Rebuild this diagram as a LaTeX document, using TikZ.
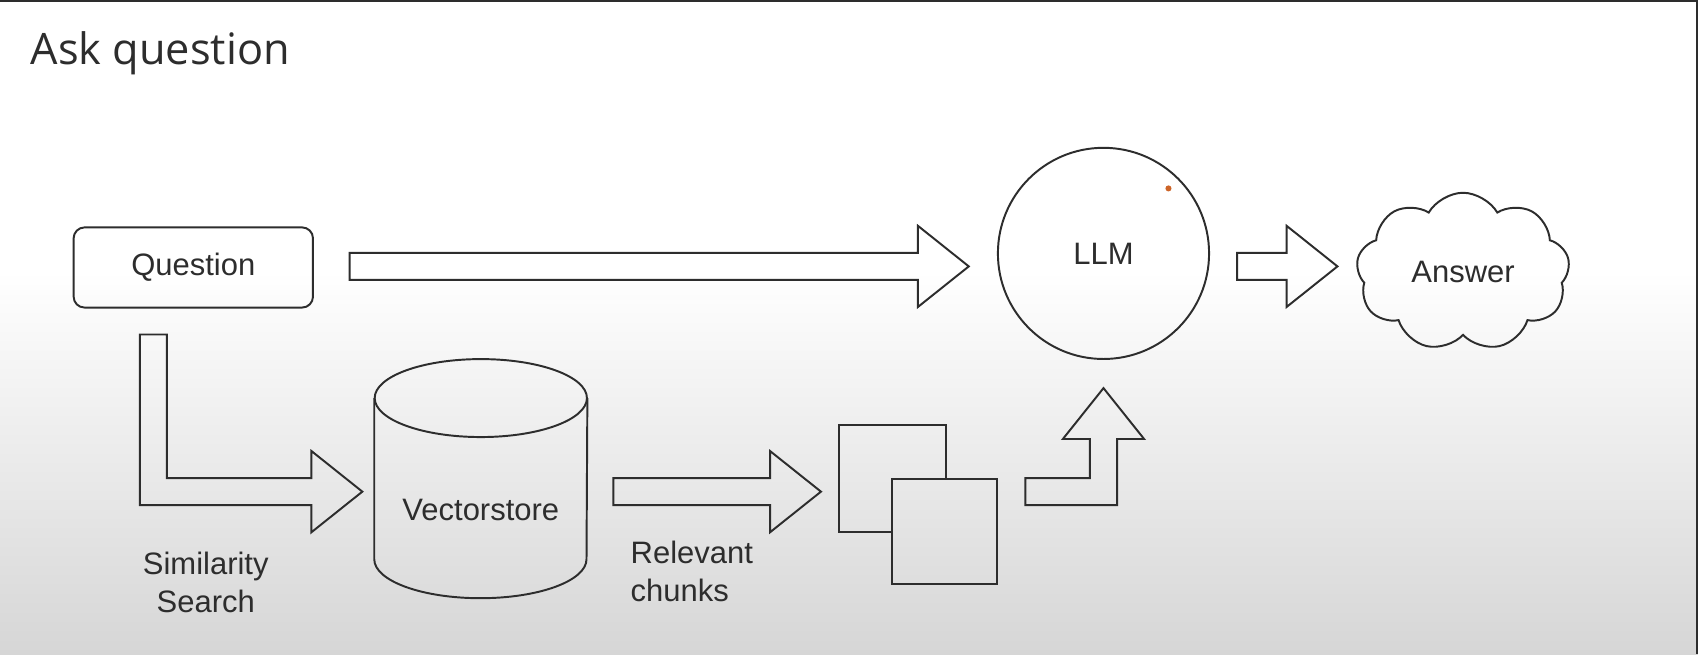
\documentclass[tikz,border=0pt]{standalone}
\usepackage{fontspec}
\setmainfont{Liberation Sans}
\newfontfamily\titlefont{Open Sans}
\usepackage{tikz}
\usetikzlibrary{calc,shapes.symbols}
\definecolor{ink}{RGB}{45,45,45}
\definecolor{bggray}{RGB}{214,214,214}
\definecolor{dotorange}{RGB}{205,100,40}
\tikzstyle{edgeline}=[draw=ink, line width=0.9pt]
\tikzstyle{txt}=[font=\fontsize{14.3}{17.5}\selectfont, text=ink]
\tikzstyle{box}=[edgeline, txt, rounded corners=5pt, minimum width=110.5pt, minimum height=37pt]
\tikzstyle{bubble}=[edgeline, txt, circle, minimum size=97.5pt]
\tikzstyle{cloudy}=[edgeline, txt, cloud, cloud puffs=9, cloud puff arc=120, aspect=1.35, minimum width=98.5pt, minimum height=73pt, inner sep=0pt]
\tikzstyle{store}=[inner sep=0pt, minimum width=98pt, minimum height=110pt]
\tikzstyle{doc}=[edgeline, inner sep=0pt, minimum size=48.5pt]
\tikzstyle{fat}=[edgeline, line join=miter]
%% a block arrow pointing right, from #1 to its tip #2
\newcommand{\harrow}[2]{\draw[fat] let \p1=#1, \p2=#2 in
	(\x1,{\y2+6.25pt}) -- ({\x2-23.5pt},{\y2+6.25pt}) -- ({\x2-23.5pt},{\y2+18.75pt}) -- (\x2,\y2)
	-- ({\x2-23.5pt},{\y2-18.75pt}) -- ({\x2-23.5pt},{\y2-6.25pt}) -- (\x1,{\y2-6.25pt}) -- cycle;}

\begin{document}
\begin{tikzpicture}[x=0.5pt, y=-0.5pt]
	%% the background
	\useasboundingbox (0,0) rectangle (1568,604);
	\fill[white] (0,0) rectangle (1568,604);
	\shade[top color=white, bottom color=bggray] (0,250) rectangle (1568,604);
	\draw[ink, line width=1.2pt] (0,1) -- (1567,1) -- (1567,604);
	\node[anchor=west, inner sep=0pt, text=ink, font=\titlefont\fontsize{20}{24}\selectfont] (title) at (28,49) {Ask question};
	%% the nodes
	\node[box] (q) at (178.5,247) {Question};
	\node[bubble] (llm) at (1019,234) {LLM};
	\node[cloudy] (ans) at (1351,251) {Answer};
	\node[store] (db) at (444,442) {};
	\node[txt] (dbtext) at ([yshift=-14.5pt]db.center) {Vectorstore};
	\node[doc, draw=none] (c1) at (824.5,441.5) {};
	\node[doc] (c2) at (872.5,490.5) {};
	\node[txt, align=center] (sim) at (190,538) {Similarity\\Search};
	\node[txt, align=left, anchor=west, inner sep=0pt] (rel) at (582,528) {Relevant\\chunks};
	\fill[dotorange] (1079,174) circle (1.4pt);
	%% the cylinder and the back page
	\draw[edgeline] ([yshift=-18pt]db.north) ellipse [x radius=49pt, y radius=18pt];
	\draw[edgeline] ([yshift=-18pt]db.north west) -- ([yshift=18pt]db.south west)
		arc [start angle=180, end angle=360, x radius=49pt, y radius=18pt] -- ([yshift=-18pt]db.north east);
	\draw[edgeline] (c2.west |- c1.south) -- (c1.south west) -- (c1.north west) -- (c1.north east) -- (c1.east |- c2.north);
	%% for the arrows
	\coordinate (a0) at ($(q.east)+(33,-1)$);
	\coordinate (a1) at ($(a0 -| llm.west)+(-26,0)$);
	\coordinate (b0) at ($(a0 -| llm.east)+(25,0)$);
	\coordinate (b1) at ($(a0 -| ans.west)+(-18,0)$);
	\coordinate (r0) at ($(db.east)+(24,12)$);
	\coordinate (r1) at ($(r0 -| c1.west)+(-17,0)$);
	\coordinate (s0) at ($(q.south west)+(62,24)$);
	\coordinate (s1) at ($(db.west)+(-11,12)$);
	\coordinate (u0) at ($(c2.east)+(25,-36.5)$);
	\coordinate (u1) at ($(llm.south)+(0,26)$);
	\harrow{(a0)}{(a1)}
	\harrow{(b0)}{(b1)}
	\harrow{(r0)}{(r1)}
	\draw[fat] let \p1=(s0), \p2=(s1) in
		(\x1,\y1) -- ({\x1+12.5pt},\y1) -- ({\x1+12.5pt},{\y2+6.25pt}) -- ({\x2-23.5pt},{\y2+6.25pt})
		-- ({\x2-23.5pt},{\y2+18.75pt}) -- (\x2,\y2) -- ({\x2-23.5pt},{\y2-18.75pt})
		-- ({\x2-23.5pt},{\y2-6.25pt}) -- (\x1,{\y2-6.25pt}) -- cycle;
	\draw[fat] let \p1=(u0), \p2=(u1) in
		(\x1,{\y1+6.25pt}) -- ({\x2-6.25pt},{\y1+6.25pt}) -- ({\x2-6.25pt},{\y2-23.5pt})
		-- ({\x2-18.75pt},{\y2-23.5pt}) -- (\x2,\y2) -- ({\x2+18.75pt},{\y2-23.5pt})
		-- ({\x2+6.25pt},{\y2-23.5pt}) -- ({\x2+6.25pt},{\y1-6.25pt}) -- (\x1,{\y1-6.25pt}) -- cycle;
\end{tikzpicture}
\end{document}
